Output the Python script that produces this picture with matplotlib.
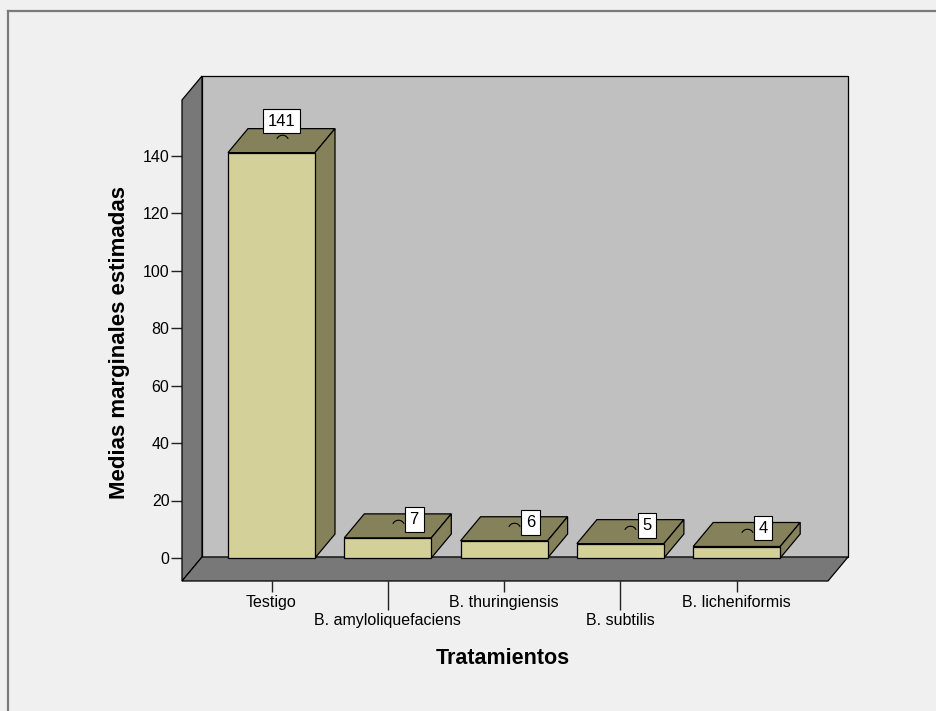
import matplotlib.pyplot as plt
from matplotlib.patches import Polygon, Rectangle
from matplotlib.path import Path
from matplotlib.lines import Line2D

treatments = ['Testigo', 'B. amyloliquefaciens', 'B. thuringiensis',
              'B. subtilis', 'B. licheniformis']
means = [141, 7, 6, 5, 4]
yticks = [0, 20, 40, 60, 80, 100, 120, 140]

W, H = 937, 711
BG = '#f0f0f0'
WALL = '#c0c0c0'
SIDE = '#787878'
FRONT = '#d4d09a'
SHADE = '#85825b'

plt.rcParams['font.family'] = ['Liberation Sans', 'DejaVu Sans']

fig = plt.figure(figsize=(W / 100, H / 100), dpi=100, facecolor=BG)

# outer frame of the chart area
fig.add_artist(Line2D([8 / W, 8 / W], [0, 1 - 11 / H], color='#7a7a7a', lw=1.6))
fig.add_artist(Line2D([8 / W, 1], [1 - 11 / H, 1 - 11 / H], color='#7a7a7a', lw=1.6))

# front plane of the 3D box, in pixels
left, right, top, bottom = 182, 828, 100, 581
zero_px, step_px, unit_px = 558, 116.3, 57.5 / 20
depth_x, depth_y = 20, 24

ax = fig.add_axes([left / W, 1 - bottom / H, (right - left) / W, (bottom - top) / H])
ax.set_facecolor('none')
for s in ax.spines.values():
    s.set_visible(False)

first_center = 271.5
ax.set_xlim(-(first_center - left) / step_px, (right - first_center) / step_px)
ax.set_ylim(-(bottom - zero_px) / unit_px, (zero_px - top) / unit_px)
xmin, xmax = ax.get_xlim()
ymin, ymax = ax.get_ylim()
DX = depth_x / step_px
DY = depth_y / unit_px

edge = dict(ec='black', lw=0.9, clip_on=False)

# back wall, left wall, floor
ax.add_patch(Rectangle((xmin + DX, ymin + DY), xmax - xmin, ymax - ymin,
                       fc=WALL, zorder=1, **edge))
ax.add_patch(Polygon([(xmin, ymin), (xmin + DX, ymin + DY), (xmin + DX, ymax + DY),
                      (xmin, ymax)], fc=SIDE, zorder=2, **edge))
ax.add_patch(Polygon([(xmin, ymin), (xmax, ymin), (xmax + DX, ymin + DY),
                      (xmin + DX, ymin + DY)], fc=SIDE, zorder=2, **edge))

bw = 87 / step_px
arc = Path.arc(25, 155)
for i, v in enumerate(means):
    x0, x1 = i - bw / 2, i + bw / 2
    ax.add_patch(Polygon([(x0, v), (x1, v), (x1 + DX, v + DY), (x0 + DX, v + DY)],
                         fc=SHADE, zorder=3, **edge))
    ax.add_patch(Polygon([(x1, 0), (x1 + DX, DY), (x1 + DX, v + DY), (x1, v)],
                         fc=SHADE, zorder=3, **edge))
    ax.add_patch(Rectangle((x0, 0), bw, v, fc=FRONT, zorder=4, **edge))

    # value label sitting on the centre of the top face
    cx, cy = i + DX / 2, v + DY / 2
    ax.plot([cx], [cy], marker=arc, ms=9, mfc='none', mec='black', mew=0.8,
            ls='', zorder=5, clip_on=False)
    if v == max(means):
        xy_off, ha, va = (0, 8.5), 'center', 'bottom'
    else:
        xy_off, ha, va = (8.5, 4.5), 'left', 'center'
    ax.annotate(str(v), xy=(cx, cy), xytext=xy_off, textcoords='offset points',
                ha=ha, va=va, fontsize=12, zorder=6,
                bbox=dict(boxstyle='square,pad=0.28', fc='white', ec='black', lw=0.8))

ax.set_yticks(yticks)
ax.tick_params(axis='y', length=8, width=1, pad=1, labelsize=11.5, color='#222222')

ax.set_xticks(range(0, len(treatments), 2), labels=treatments[0::2])
ax.set_xticks(range(1, len(treatments), 2), labels=treatments[1::2], minor=True)
ax.tick_params(axis='x', which='major', length=8, width=1, pad=2, labelsize=11.5,
               color='#222222')
ax.tick_params(axis='x', which='minor', length=21, width=1, pad=2, labelsize=11.5,
               color='#222222')

fig.text(120 / W, 1 - 343 / H, 'Medias marginales estimadas', rotation=90,
         ha='center', va='center', fontsize=16, fontweight='bold')
fig.text(503 / W, 1 - 658 / H, 'Tratamientos', ha='center', va='center',
         fontsize=15.5, fontweight='bold')

fig.savefig('out.png', dpi=100, facecolor=BG)
